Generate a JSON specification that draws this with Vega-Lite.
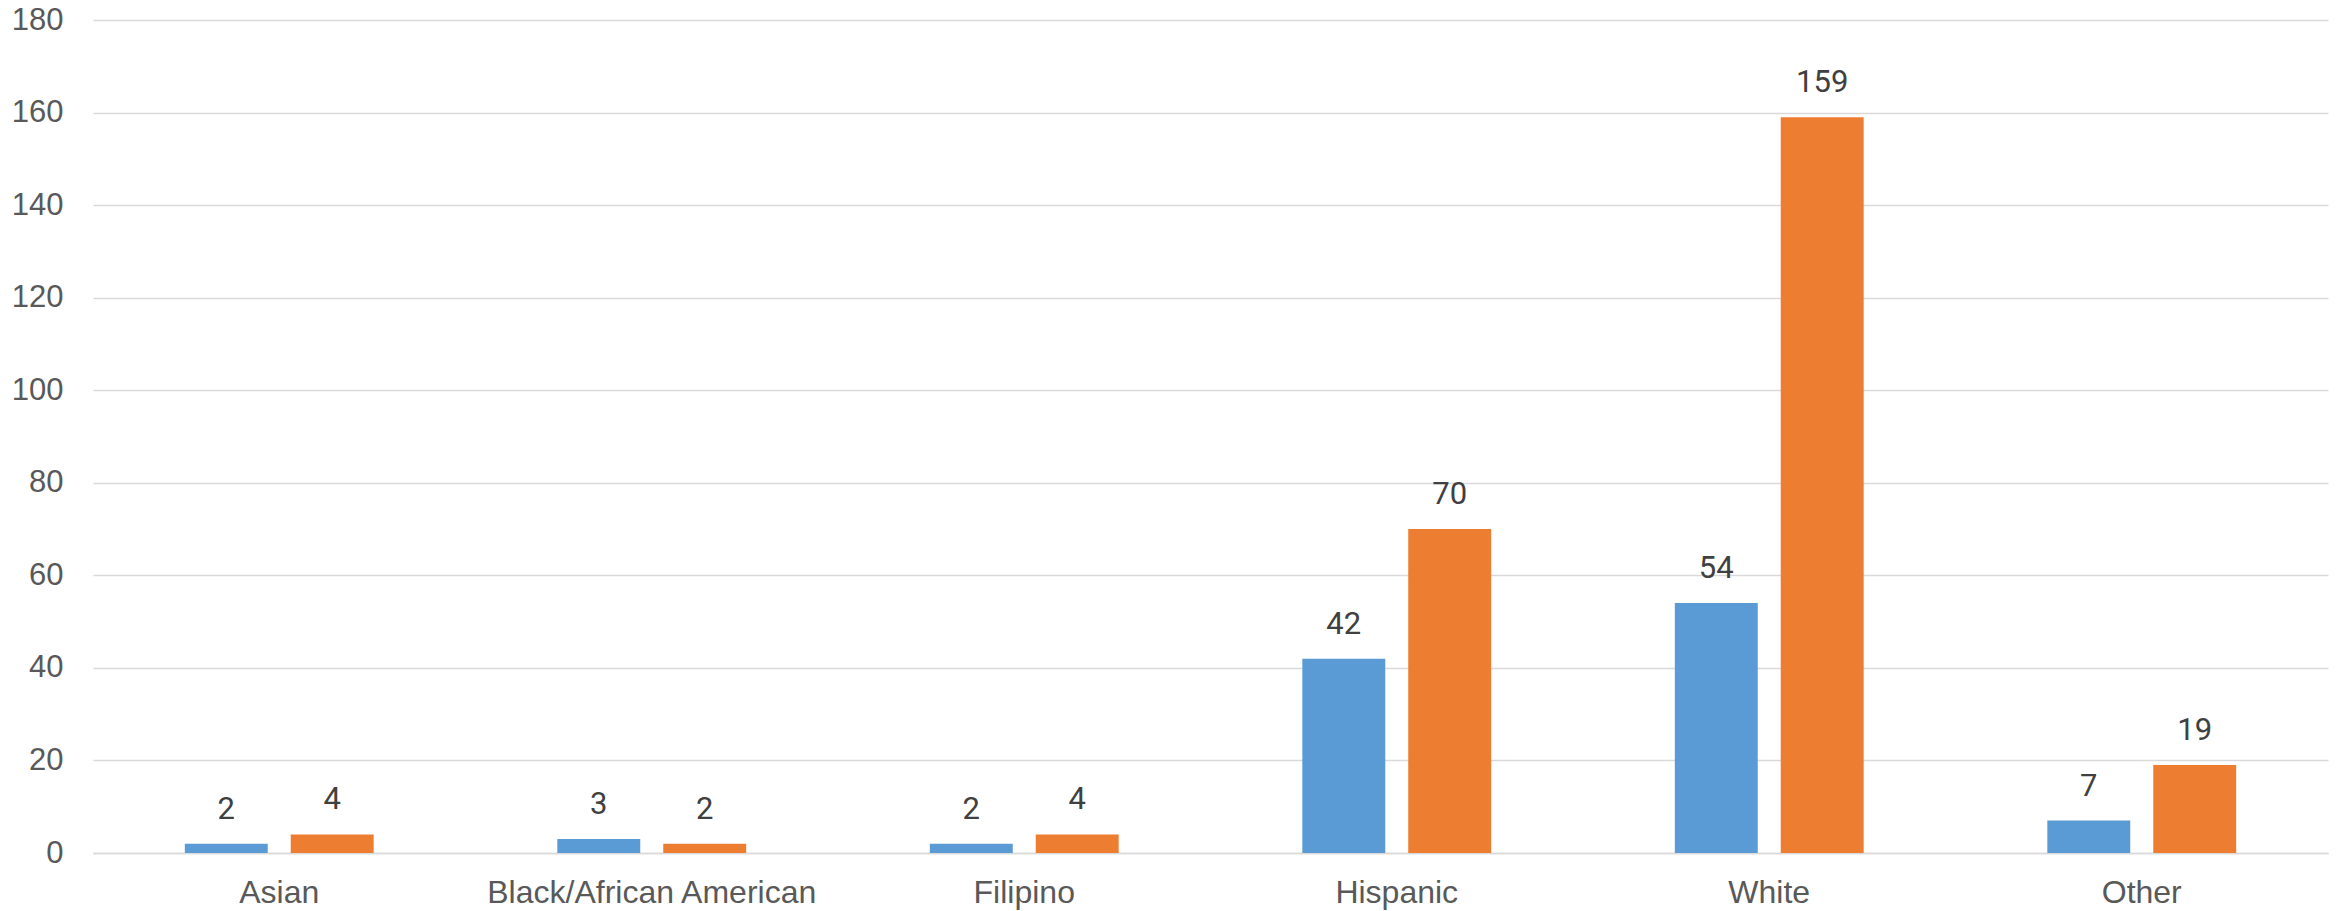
{
  "$schema": "https://vega.github.io/schema/vega-lite/v6.json",
  "autosize": {"type": "none"},
  "width": 2235,
  "height": 833,
  "padding": {"left": 93, "top": 20, "right": 15, "bottom": 58},
  "background": "white",
  "config": {"view": {"stroke": null}},
  "data": {
    "values": [
      {"category": "Asian", "series": "Series 1", "value": 2},
      {"category": "Asian", "series": "Series 2", "value": 4},
      {"category": "Black/African American", "series": "Series 1", "value": 3},
      {"category": "Black/African American", "series": "Series 2", "value": 2},
      {"category": "Filipino", "series": "Series 1", "value": 2},
      {"category": "Filipino", "series": "Series 2", "value": 4},
      {"category": "Hispanic", "series": "Series 1", "value": 42},
      {"category": "Hispanic", "series": "Series 2", "value": 70},
      {"category": "White", "series": "Series 1", "value": 54},
      {"category": "White", "series": "Series 2", "value": 159},
      {"category": "Other", "series": "Series 1", "value": 7},
      {"category": "Other", "series": "Series 2", "value": 19}
    ]
  },
  "encoding": {
    "x": {
      "field": "category",
      "type": "nominal",
      "sort": null,
      "scale": {"paddingInner": 0.493, "paddingOuter": 0.2465},
      "axis": {
        "title": null,
        "labelAngle": 0,
        "labelFont": "Liberation Sans",
        "labelFontSize": 32,
        "labelColor": "#595959",
        "labelPadding": 24,
        "labelLimit": 0,
        "ticks": false,
        "domain": true,
        "domainColor": "#D9D9D9",
        "domainWidth": 1.5,
        "grid": false
      }
    },
    "xOffset": {
      "field": "series",
      "type": "nominal",
      "scale": {"paddingInner": 0.217, "paddingOuter": 0}
    },
    "y": {
      "field": "value",
      "type": "quantitative",
      "scale": {"domain": [0, 180], "nice": false},
      "axis": {
        "title": null,
        "values": [0, 20, 40, 60, 80, 100, 120, 140, 160, 180],
        "labelFont": "Liberation Sans",
        "labelFontSize": 31,
        "labelColor": "#595959",
        "labelPadding": 30,
        "ticks": false,
        "domain": false,
        "grid": true,
        "gridColor": "#D9D9D9",
        "gridWidth": 1.5
      }
    }
  },
  "layer": [
    {
      "mark": {"type": "bar"},
      "encoding": {
        "color": {
          "field": "series",
          "type": "nominal",
          "scale": {"domain": ["Series 1", "Series 2"], "range": ["#5B9BD5", "#ED7D31"]},
          "legend": null
        }
      }
    },
    {
      "mark": {
        "type": "text",
        "baseline": "alphabetic",
        "dy": -25,
        "font": "Roboto",
        "fontSize": 31,
        "color": "#404040"
      },
      "encoding": {
        "text": {"field": "value", "type": "quantitative"}
      }
    }
  ]
}
